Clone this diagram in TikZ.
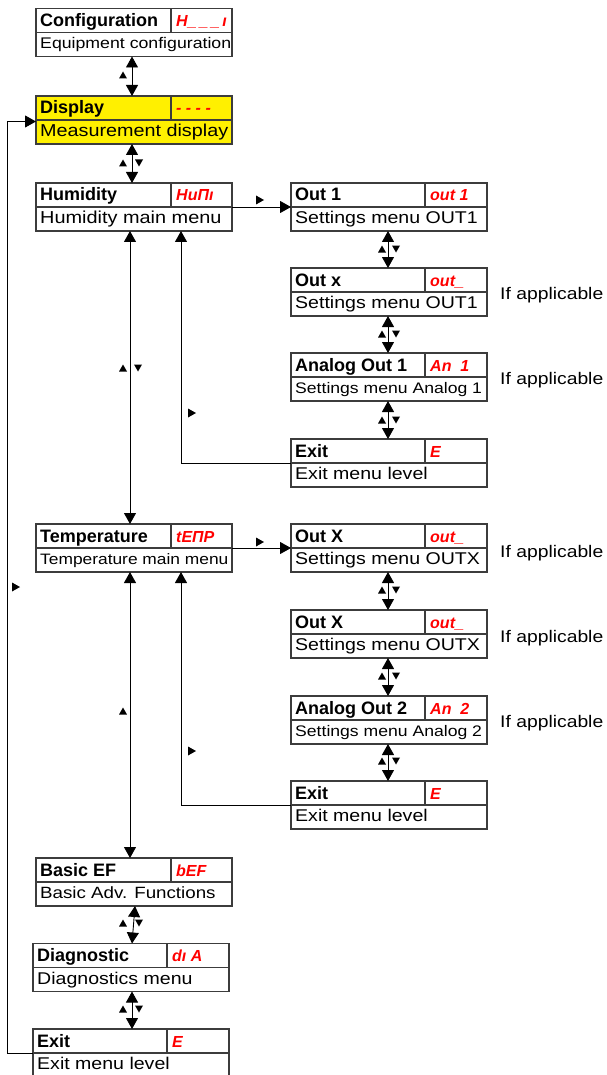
\documentclass[tikz,border=0pt]{standalone}
\usepackage{fontspec}
\setmainfont{Liberation Sans}
\newfontfamily\regf{Liberation Sans}[FakeStretch=1.15]
\usetikzlibrary{arrows.meta}
\definecolor{boxgray}{RGB}{60,60,60}
\definecolor{segred}{RGB}{255,0,0}
\definecolor{dispyellow}{RGB}{255,240,0}
\newcommand\fs[1]{\fontsize{#1}{#1}\selectfont}
\newcommand\menubox[8]{%
  \node[boxst,fill=#5] (#1) at (#2,#3) {};
  \draw[boxline] (#1.west) -- (#1.east);
  \draw[boxline] (#4,#3-24) -- (#4,#3);
  \node[hdr] (#1-h) at (#2-94,#3-6) {#6};
  \node[code] (#1-c) at (#4+5,#3-6) {#7};
  \node[sub] (#1-s) at (#2-94,#3+16.5) {#8};
}
\newcommand\tup[2]{\fill[black] (#1-4,#2+3.5) -- (#1+4,#2+3.5) -- (#1,#2-3.5) -- cycle;}
\newcommand\tdown[2]{\fill[black] (#1-4,#2-3.5) -- (#1+4,#2-3.5) -- (#1,#2+3.5) -- cycle;}
\newcommand\tright[2]{\fill[black] (#1-4,#2-4.5) -- (#1-4,#2+4.5) -- (#1+4,#2) -- cycle;}
\begin{document}
\begin{tikzpicture}[x=1pt,y=-1pt,
  boxst/.style={draw=boxgray,line width=1.2pt,rectangle,minimum width=196pt,minimum height=48pt,inner sep=0pt,outer sep=0pt},
  boxline/.style={draw=boxgray,line width=1.2pt},
  hdr/.style={anchor=base west,inner sep=0pt,font={\bfseries\fs{18}}},
  sub/.style={anchor=base west,inner sep=0pt,font={\regf\fs{17}}},
  code/.style={anchor=base west,inner sep=0pt,text=segred,font={\bfseries\itshape\fs{16}}},
  conn/.style={draw=black,line width=0.9pt},
  dbl/.style={conn,{Triangle[width=12pt,length=11pt]}-{Triangle[width=12pt,length=11pt]}},
  sgl/.style={conn,-{Triangle[width=12pt,length=11pt]}}]
\useasboundingbox (0,0) rectangle (606,1075);
% left column
\menubox{cfg}{134}{32.5}{171}{white}{Configuration}{H\_\,\_\,\_\,ı}{\fs{15.4}Equipment configuration}
\menubox{disp}{134}{120}{171}{dispyellow}{Display}{- - - -}{\fs{17.2}Measurement display}
\menubox{hum}{134}{207}{171}{white}{Humidity}{HuΠı}{\fs{17.3}Humidity main menu}
\menubox{temp}{134}{548}{171}{white}{Temperature}{tEΠP}{\fs{15.1}Temperature main menu}
\menubox{bef}{134}{882}{171}{white}{Basic EF}{bEF}{\fs{16.3}Basic Adv. Functions}
\menubox{diag}{131}{967.5}{167}{white}{Diagnostic}{dı A}{\fs{17}Diagnostics menu}
\menubox{exc}{131}{1053}{167}{white}{Exit}{E}{\fs{17}Exit menu level}
% right column, humidity
\menubox{out1}{389}{207}{425}{white}{Out 1}{out 1}{Settings menu OUT1}
\menubox{outx}{389}{292}{425}{white}{Out x}{out\_}{Settings menu OUT1}
\menubox{an1}{389}{377}{425}{white}{Analog Out 1}{An\ \ 1}{\fs{15.3}Settings menu Analog 1}
\menubox{exh}{389}{463}{425}{white}{Exit}{E}{Exit menu level}
% right column, temperature
\menubox{ox1}{389}{548}{425}{white}{Out X}{out\_}{Settings menu OUTX}
\menubox{ox2}{389}{634}{425}{white}{Out X}{out\_}{Settings menu OUTX}
\menubox{an2}{389}{720}{425}{white}{Analog Out 2}{An\ \ 2}{\fs{15.3}Settings menu Analog 2}
\menubox{ext}{389}{805}{425}{white}{Exit}{E}{Exit menu level}
% side notes
\node[sub,font={\regf\fs{16.8}}] (ia1) at (500,299) {If applicable};
\node[sub,font={\regf\fs{16.8}}] (ia2) at (500,384) {If applicable};
\node[sub,font={\regf\fs{16.8}}] (ia3) at (500,557) {If applicable};
\node[sub,font={\regf\fs{16.8}}] (ia4) at (500,642) {If applicable};
\node[sub,font={\regf\fs{16.8}}] (ia5) at (500,727) {If applicable};
% connectors
\draw[dbl] ([xshift=-2pt]cfg.south) -- ([xshift=-2pt]disp.north);
\draw[dbl] ([xshift=-2pt]disp.south) -- ([xshift=-2pt]hum.north);
\draw[sgl] (hum.east) -- (out1.west);
\draw[dbl] ([xshift=-1pt]out1.south) -- ([xshift=-1pt]outx.north);
\draw[dbl] ([xshift=-1pt]outx.south) -- ([xshift=-1pt]an1.north);
\draw[dbl] ([xshift=-1pt]an1.south) -- ([xshift=-1pt]exh.north);
\draw[sgl] (exh.west) -| ([xshift=47pt]hum.south);
\draw[dbl] ([xshift=-4pt]hum.south) -- ([xshift=-4pt]temp.north);
\draw[sgl] (temp.east) -- (ox1.west);
\draw[dbl] ([xshift=-1pt]ox1.south) -- ([xshift=-1pt]ox2.north);
\draw[dbl] ([xshift=-1pt]ox2.south) -- ([xshift=-1pt]an2.north);
\draw[dbl] ([xshift=-1pt]an2.south) -- ([xshift=-1pt]ext.north);
\draw[sgl] (ext.west) -| ([xshift=47pt]temp.south);
\draw[dbl] ([xshift=-4pt]temp.south) -- ([xshift=-4pt]bef.north);
\draw[dbl] ([xshift=1pt]bef.south) -- ([xshift=1pt]diag.north);
\draw[dbl] ([xshift=1pt]diag.south) -- ([xshift=1pt]exc.north);
\coordinate (lb) at (7,1053);
\draw[sgl] (exc.west) -- (lb) |- ([yshift=-1.5pt]disp.west);
% small direction marks
\tup{123}{75}
\tup{123}{163} \tdown{139}{163}
\tup{123}{368} \tdown{138}{368}
\tup{123}{711}
\tup{123}{923} \tdown{139}{923}
\tup{123}{1009} \tdown{139}{1009}
\tup{382}{249} \tdown{396}{249}
\tup{382}{334} \tdown{396}{334}
\tup{382}{420} \tdown{396}{420}
\tup{382}{590} \tdown{396}{590}
\tup{382}{676} \tdown{396}{676}
\tup{382}{761} \tdown{396}{761}
\tright{260}{200}
\tright{260}{542}
\tright{192}{413}
\tright{192}{751}
\tright{16}{587}
\end{tikzpicture}
\end{document}
